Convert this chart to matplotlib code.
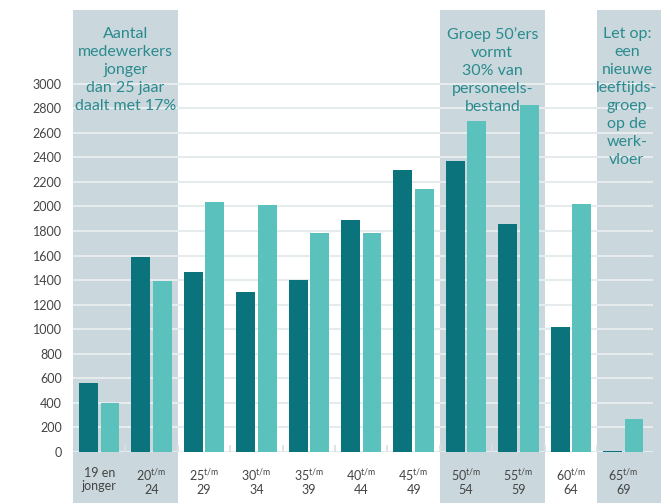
import matplotlib.pyplot as plt
import numpy as np

plt.rcParams['font.family'] = ['Lato', 'DejaVu Sans']
plt.rcParams['mathtext.fontset'] = 'custom'
plt.rcParams['mathtext.rm'] = 'Lato'

# leeftijdsgroepen
groepen = ["19 en\njonger", "20$^{\\mathrm{t/m}}$\n24", "25$^{\\mathrm{t/m}}$\n29",
           "30$^{\\mathrm{t/m}}$\n34", "35$^{\\mathrm{t/m}}$\n39", "40$^{\\mathrm{t/m}}$\n44",
           "45$^{\\mathrm{t/m}}$\n49", "50$^{\\mathrm{t/m}}$\n54", "55$^{\\mathrm{t/m}}$\n59",
           "60$^{\\mathrm{t/m}}$\n64", "65$^{\\mathrm{t/m}}$\n69"]
reeks_donker = [560, 1590, 1470, 1300, 1400, 1890, 2300, 2370, 1860, 1020, 10]
reeks_licht = [400, 1390, 2040, 2010, 1780, 1780, 2140, 2700, 2830, 2020, 270]
yticks = list(range(0, 3001, 200))

# gearceerde blokken met tekst
blokken = [(-0.5, 1.5), (6.5, 8.5), (9.5, 10.72)]
teksten = ["Aantal\nmedewerkers\njonger\ndan 25 jaar\ndaalt met 17%",
           "Groep 50\u2019ers\nvormt\n30% van\npersoneels-\nbestand",
           "Let op:\neen\nnieuwe\nleeftijds-\ngroep\nop de\nwerk-\nvloer"]
tekst_x = [0.5, 7.5, 10.07]

donker = "#0b737c"
licht = "#5bc1bc"
schaduw = "#cad7dd"
tekstkleur = "#2a8b8e"

fig = plt.figure(figsize=(6.67, 5.03), dpi=100)
ax = fig.add_axes([73/667, 51/503, (661-73)/667, 442/503])

for (a, b) in blokken:
    ax.axvspan(a, b, ymin=-0.12, ymax=1, color=schaduw, lw=0, zorder=0, clip_on=False)

x = np.arange(len(groepen))
w = 0.36
ax.bar(x - 0.205, reeks_donker, w, color=donker, zorder=3)
ax.bar(x + 0.205, reeks_licht, w, color=licht, zorder=3)

# rasterlijnen stoppen net voor de rechterrand
for yt in yticks:
    ax.plot([-0.5, 10.55], [yt, yt], color="#e6ecee", lw=1.5, zorder=1)

ax.set_xlim(-0.5, 10.72)
ax.set_ylim(0, 3600)
ax.set_yticks(yticks)
ax.set_xticks(x)
ax.set_xticklabels(groepen, fontsize=9, color="#444444", linespacing=1.1)
ax.set_xticks(x[:-1] + 0.5, minor=True)
ax.tick_params(axis='x', which='major', length=0, pad=11)
ax.tick_params(axis='x', which='minor', direction='in', length=5, color="#d8e0e3", width=1.2)
ax.tick_params(axis='y', length=0, pad=8, labelsize=9, labelcolor="#444444")
for s in ax.spines.values():
    s.set_visible(False)

for t, tx in zip(teksten, tekst_x):
    ax.text(tx, 0.962, t, transform=ax.get_xaxis_transform(), ha='center', va='top',
            fontsize=11.5, color=tekstkleur, linespacing=1.36, zorder=4)

fig.savefig("out.png", dpi=100)
